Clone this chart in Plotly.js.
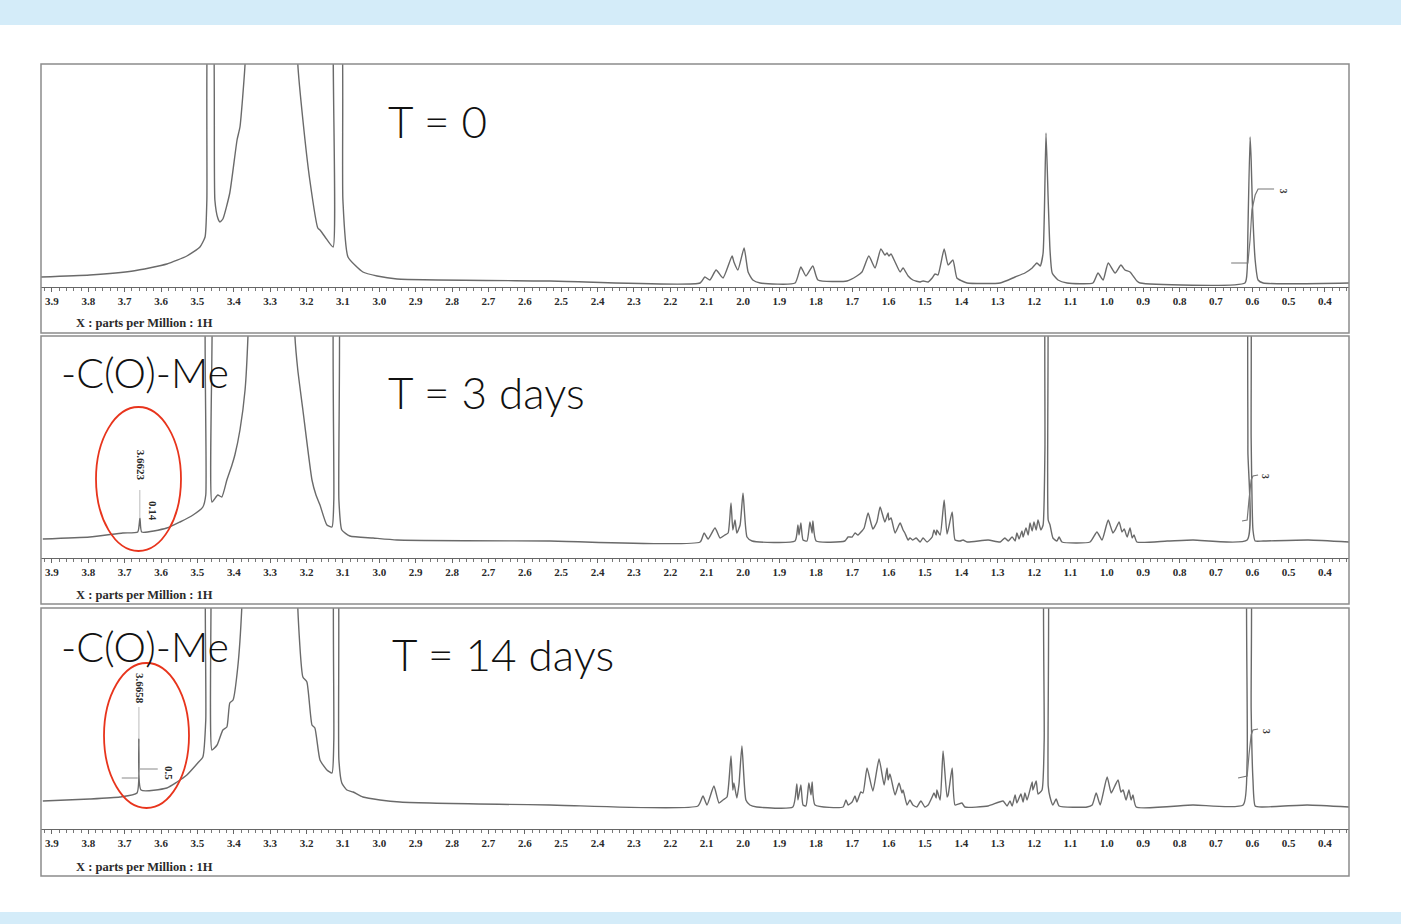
<!DOCTYPE html>
<html>
<head>
<meta charset="utf-8">
<script src="https://cdn.plot.ly/plotly-3.0.1.min.js"></script>
<style>html,body{margin:0;padding:0;background:#fff;}#chart{width:1401px;height:924px;}</style>
</head>
<body>
<div id="chart"></div>
<script>
// ---------- DATA (ppm, intensity) ----------
var tickLabelsPpm = [3.9,3.8,3.7,3.6,3.5,3.4,3.3,3.2,3.1,3.0,2.9,2.8,2.7,2.6,2.5,2.4,2.3,2.2,2.1,2.0,1.9,1.8,1.7,1.6,1.5,1.4,1.3,1.2,1.1,1.0,0.9,0.8,0.7,0.6,0.5,0.4];
var panelTitles = ["T = 0", "T = 3 days", "T = 14 days"];
var groupLabel = "-C(O)-Me";
var axisLabel = "X : parts per Million : 1H";

// T = 0
var t0_ppm = [3.930,3.796,3.677,3.584,3.529,3.493,3.479,3.474,3.468,3.460,3.452,3.444,3.438,3.430,3.411,3.391,3.383,3.369,3.364,3.226,3.224,3.210,3.191,3.169,3.163,3.149,3.127,3.122,3.108,3.100,3.086,3.045,3.006,2.951,2.531,2.118,
 2.105,2.091,2.074,2.055,2.030,2.025,2.014,1.997,1.986,1.973,1.953,
 1.857,1.841,1.827,1.808,1.794,
 1.714,1.687,1.673,1.654,1.637,1.621,1.610,1.604,1.599,1.593,1.582,1.568,1.560,1.546,1.533,1.513,1.505,1.491,
 1.480,1.472,1.464,1.447,1.436,1.423,1.412,1.398,1.384,
 1.293,1.252,1.225,1.205,1.192,1.183,1.175,1.167,1.161,1.156,1.150,1.134,1.109,
 1.038,1.024,1.010,0.996,0.977,0.961,0.950,0.936,0.917,0.908,
 0.620,0.614,0.612,0.606,0.603,0.600,0.592,0.584,0.570,0.334];
var t0_int = [10,12,16,23,31,40,50,87,300,300,87,69,65,68,94,147,160,223,300,300,223,167,107,59,57,50,40,300,300,87,30,15,11,8,6,4,
 10,7,17,9,31,25,17,39,15,7,4,
 4,20,11,21,7,
 6,11,15,31,19,38,32,34,31,33,25,15,19,11,7,5,6,5,
 9,13,12,38,22,27,9,6,4,
 4,10,14,19,24,21,34,154,87,37,14,7,4,
 4,14,7,24,14,22,17,15,6,4,
 4,17,54,150,127,87,27,7,4,4];

// T = 3 days
var t3_ppm = [3.925,3.796,3.705,3.664,3.658,3.653,3.584,3.548,3.512,3.485,3.477,3.474,3.463,3.460,3.444,3.433,3.419,3.405,3.397,3.383,3.369,3.361,3.356,3.237,3.232,3.224,3.210,3.185,3.174,3.163,3.144,3.130,3.125,3.122,3.114,3.111,3.103,3.081,3.017,2.951,2.531,
 2.118,2.107,2.096,2.077,2.063,2.050,2.041,2.033,2.028,2.022,2.017,2.008,2.000,1.989,1.975,
 1.857,1.849,1.846,1.841,1.835,1.824,1.816,1.810,1.808,1.799,
 1.720,1.711,1.700,1.692,1.684,1.673,1.667,1.656,1.643,1.632,1.623,1.610,1.601,1.599,1.593,1.582,1.568,1.560,1.555,1.546,1.541,1.533,1.524,1.513,1.505,1.494,
 1.480,1.475,1.469,1.467,1.458,1.447,1.439,1.425,1.417,1.403,1.395,1.384,
 1.326,1.293,1.280,1.271,1.260,1.252,1.247,1.241,1.233,1.230,1.222,1.216,1.211,1.205,1.200,1.194,1.189,1.181,1.175,1.170,1.167,1.164,1.161,1.156,1.148,1.137,1.131,1.123,
 1.046,1.027,1.013,0.996,0.983,0.977,0.966,0.958,0.952,0.944,0.936,0.930,0.925,0.917,
 0.834,0.763,0.614,0.612,0.609,0.606,0.603,0.598,0.592,0.570,0.446,0.334];
var t3_int = [19,21,25,26,40,26,30,36,43,51,63,300,300,56,63,61,78,93,103,128,168,222,300,300,222,188,148,78,63,53,33,31,58,300,300,58,28,22,20,18,17,
 16,25,19,30,20,23,25,55,28,38,25,33,65,21,17,
 17,33,23,35,18,17,36,25,37,17,
 17,21,21,25,23,27,30,45,29,36,51,36,45,38,40,25,35,28,25,18,20,18,20,16,20,16,
 21,28,23,28,23,58,24,46,18,17,18,16,
 18,16,20,17,21,17,25,19,27,21,30,23,35,27,36,28,38,28,33,108,300,300,38,33,20,17,21,16,
 16,26,18,38,25,28,36,26,29,21,30,20,23,16,
 17,18,18,108,300,300,120,28,17,17,18,16];

// T = 14 days
var t14_ppm = [3.925,3.796,3.713,3.666,3.661,3.655,3.584,3.556,3.529,3.499,3.485,3.477,3.474,3.466,3.460,3.446,3.430,3.419,3.411,3.402,3.389,3.378,3.372,3.226,3.224,3.210,3.199,3.185,3.177,3.163,3.144,3.130,3.125,3.122,3.116,3.111,3.103,3.089,3.072,3.045,2.998,2.943,2.531,
 2.124,2.110,2.099,2.080,2.066,2.055,2.044,2.033,2.028,2.025,2.017,2.011,2.003,1.992,1.981,1.962,
 1.863,1.852,1.849,1.841,1.835,1.827,1.819,1.813,1.810,1.802,
 1.725,1.717,1.711,1.700,1.692,1.687,1.676,1.670,1.659,1.643,1.626,1.612,1.604,1.601,1.596,1.582,1.571,1.563,1.560,1.549,1.541,1.533,1.522,1.511,1.500,1.491,
 1.480,1.475,1.469,1.467,1.458,1.450,1.439,1.436,1.425,1.417,1.398,1.390,1.326,
 1.285,1.274,1.266,1.260,1.252,1.247,1.236,1.230,1.225,1.219,1.205,1.203,1.194,1.189,1.178,1.172,1.170,1.164,1.161,1.156,1.148,1.139,1.131,
 1.054,1.040,1.029,1.018,0.999,0.988,0.983,0.969,0.961,0.955,0.947,0.939,0.933,0.928,0.919,
 0.763,0.625,0.614,0.612,0.606,0.603,0.598,0.592,0.573,0.449,0.334];
var t14_int = [28,30,32,36,90,39,41,47,54,66,72,109,300,300,79,84,99,102,126,129,162,221,300,300,221,152,147,104,101,69,59,56,89,300,300,69,46,39,37,32,29,27,24,
 23,33,24,43,26,29,32,73,39,46,31,45,83,29,24,22,
 22,45,29,44,24,23,46,34,47,24,
 22,29,24,27,33,27,37,36,61,38,70,44,61,49,55,34,46,36,39,24,29,24,22,28,22,24,
 32,36,31,39,29,78,32,34,61,24,26,22,23,
 28,23,28,23,34,26,35,27,36,29,47,39,48,35,39,89,300,300,43,32,24,30,23,
 22,24,36,24,52,36,39,49,37,39,29,39,29,34,22,
 24,24,69,300,300,120,49,23,22,24,22];

// integral traces
var int0_ppm = [0.658,0.612,0.606,0.601,0.592,0.584,0.540];
var int0_val = [24,24,47,77,92,98,98];
var int3_ppm = [0.628,0.614,0.609,0.603,0.598,0.584];
var int3_val = [37,38,58,78,82,83];
var int14_ppm = [0.639,0.614,0.609,0.603,0.598,0.584];
var int14_val = [51,53,74,94,99,100];
var intAc14_ppm = [3.708,3.664,3.658,3.609];
var intAc14_val = [51,51,60,60];
// integral values and peak picks
var integralLabel = ["3","3","3"];
var peakPick3 = 3.6623, peakPick14 = 3.6658;
var acInt3 = "0.14", acInt14 = "0.5";
var pick3_val = [41,68];
var pick14_val = [91,122];

// ---------- LAYOUT ----------
var W = 1401, H = 924;
function X(px){return px/W;}
function Y(py){return 1-py/H;}
var serif = {family:"Liberation Serif, Times New Roman, serif", size:11, color:"#2a2a2a", weight:700};
var labelFont = {family:"Liberation Serif, Times New Roman, serif", size:12.5, color:"#2a2a2a", weight:700};
var lineCol = "#6a6a6a";

function xax(anchor){
  return {domain:[X(41),X(1349)], range:[3.930,0.334], anchor:anchor,
    showgrid:false, zeroline:false, showline:true, linecolor:"#666", linewidth:1,
    ticks:"outside", ticklen:4, tickwidth:1, tickcolor:"#666",
    tickmode:"array", tickvals:tickLabelsPpm, ticktext:tickLabelsPpm.map(function(v){return v.toFixed(1);}),
    minor:{tickmode:"linear", tick0:0, dtick:0.02, ticks:"outside", ticklen:2.5, tickcolor:"#777", showgrid:false},
    tickfont:serif, fixedrange:true};
}
function yax(dom, top){
  return {domain:dom, range:[0,top], visible:false, showgrid:false, zeroline:false, fixedrange:true};
}
var specLine = {color:lineCol, width:1.4, shape:"spline", smoothing:0.5};

var traces = [
  {x:t0_ppm, y:t0_int, xaxis:"x", yaxis:"y", mode:"lines", line:specLine},
  {x:t3_ppm, y:t3_int, xaxis:"x2", yaxis:"y2", mode:"lines", line:specLine},
  {x:t14_ppm, y:t14_int, xaxis:"x3", yaxis:"y3", mode:"lines", line:specLine},
  {x:int0_ppm, y:int0_val, xaxis:"x", yaxis:"y", mode:"lines", line:{color:"#777",width:1.2}},
  {x:int3_ppm, y:int3_val, xaxis:"x2", yaxis:"y2", mode:"lines", line:{color:"#777",width:1.2}},
  {x:int14_ppm, y:int14_val, xaxis:"x3", yaxis:"y3", mode:"lines", line:{color:"#777",width:1.2}},
  {x:intAc14_ppm.slice(0,2), y:intAc14_val.slice(0,2), xaxis:"x3", yaxis:"y3", mode:"lines", line:{color:"#888",width:1}},
  {x:intAc14_ppm.slice(2), y:intAc14_val.slice(2), xaxis:"x3", yaxis:"y3", mode:"lines", line:{color:"#888",width:1}},
  {x:[peakPick3-0.004,peakPick3-0.004], y:pick3_val, xaxis:"x2", yaxis:"y2", mode:"lines", line:{color:"#bbb",width:1}},
  {x:[peakPick14-0.005,peakPick14-0.005], y:pick14_val, xaxis:"x3", yaxis:"y3", mode:"lines", line:{color:"#bbb",width:1}}
];

var bigFont = {family:"Lato, Noto Sans, sans-serif", size:44, color:"#111", weight:300};
var grpFont = {family:"Lato, Noto Sans, sans-serif", size:41, color:"#111", weight:300};
var annotations = [
  {text:panelTitles[0], xref:"paper", yref:"paper", x:X(386), y:Y(121), xanchor:"left", yanchor:"middle", showarrow:false, font:bigFont},
  {text:panelTitles[1], xref:"paper", yref:"paper", x:X(386), y:Y(392), xanchor:"left", yanchor:"middle", showarrow:false, font:bigFont},
  {text:panelTitles[2], xref:"paper", yref:"paper", x:X(390), y:Y(654), xanchor:"left", yanchor:"middle", showarrow:false, font:bigFont},
  {text:groupLabel, xref:"paper", yref:"paper", x:X(59), y:Y(372), xanchor:"left", yanchor:"middle", showarrow:false, font:grpFont},
  {text:groupLabel, xref:"paper", yref:"paper", x:X(59), y:Y(646), xanchor:"left", yanchor:"middle", showarrow:false, font:grpFont},
  {text:axisLabel, xref:"paper", yref:"paper", x:X(74), y:Y(323), xanchor:"left", yanchor:"middle", showarrow:false, font:labelFont},
  {text:axisLabel, xref:"paper", yref:"paper", x:X(74), y:Y(595), xanchor:"left", yanchor:"middle", showarrow:false, font:labelFont},
  {text:axisLabel, xref:"paper", yref:"paper", x:X(74), y:Y(867), xanchor:"left", yanchor:"middle", showarrow:false, font:labelFont},
  {text:peakPick3.toFixed(4), xref:"x2", yref:"y2", x:peakPick3, y:93, xshift:3, textangle:90, showarrow:false, font:serif},
  {text:acInt3, xref:"x2", yref:"y2", x:3.622, y:47, textangle:90, showarrow:false, font:serif},
  {text:peakPick14.toFixed(4), xref:"x3", yref:"y3", x:peakPick14, y:141, xshift:3, textangle:90, showarrow:false, font:serif},
  {text:acInt14, xref:"x3", yref:"y3", x:3.578, y:56, textangle:90, showarrow:false, font:serif},
  {text:integralLabel[0], xref:"x", yref:"y", x:0.515, y:96, textangle:90, showarrow:false, font:{family:serif.family,size:9.5,color:"#333",weight:700}},
  {text:integralLabel[1], xref:"x2", yref:"y2", x:0.565, y:81, textangle:90, showarrow:false, font:{family:serif.family,size:9.5,color:"#333",weight:700}},
  {text:integralLabel[2], xref:"x3", yref:"y3", x:0.562, y:98, textangle:90, showarrow:false, font:{family:serif.family,size:9.5,color:"#333",weight:700}}
];

var frameLine = {color:"#8c8c8c", width:1.5};
var shapes = [
  {type:"rect", xref:"paper", yref:"paper", x0:0, x1:1, y0:Y(25), y1:1, fillcolor:"#d4ecf9", line:{width:0}, layer:"below"},
  {type:"rect", xref:"paper", yref:"paper", x0:0, x1:1, y0:0, y1:Y(912), fillcolor:"#d4ecf9", line:{width:0}, layer:"below"},
  {type:"rect", xref:"paper", yref:"paper", x0:X(41), x1:X(1349), y0:Y(333), y1:Y(64), line:frameLine},
  {type:"rect", xref:"paper", yref:"paper", x0:X(41), x1:X(1349), y0:Y(604), y1:Y(336), line:frameLine},
  {type:"rect", xref:"paper", yref:"paper", x0:X(41), x1:X(1349), y0:Y(876), y1:Y(608), line:frameLine},
  {type:"circle", xref:"paper", yref:"paper", x0:X(96), x1:X(181), y0:Y(551), y1:Y(407), line:{color:"#e8341c", width:1.8}},
  {type:"circle", xref:"paper", yref:"paper", x0:X(104), x1:X(189), y0:Y(808), y1:Y(663), line:{color:"#e8341c", width:1.8}}
];

var layout = {
  width:W, height:H, margin:{l:0,r:0,t:0,b:0}, paper_bgcolor:"#fff", plot_bgcolor:"rgba(0,0,0,0)",
  showlegend:false, hovermode:false,
  xaxis:xax("y"), xaxis2:xax("y2"), xaxis3:xax("y3"),
  yaxis:yax([Y(287),Y(64)],223), yaxis2:yax([Y(558),Y(336)],222), yaxis3:yax([Y(829),Y(608)],221),
  annotations:annotations, shapes:shapes
};
Plotly.newPlot("chart", traces, layout, {staticPlot:true, displayModeBar:false});
</script>
</body>
</html>
